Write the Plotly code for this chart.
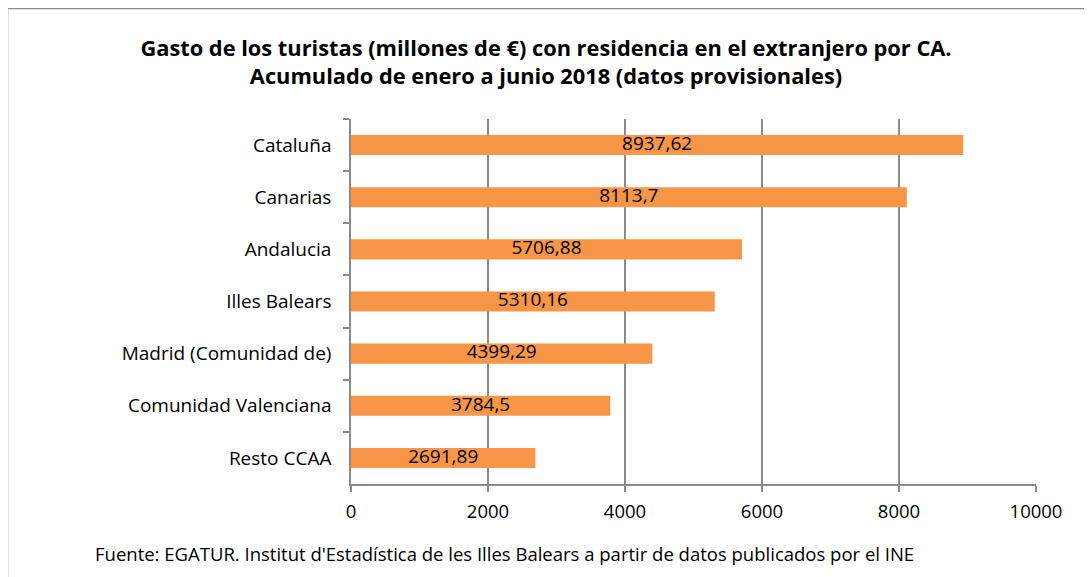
import plotly.graph_objects as go

categories = ["Cataluña", "Canarias", "Andalucia", "Illes Balears",
              "Madrid (Comunidad de)", "Comunidad Valenciana", "Resto CCAA"]
values = [8937.62, 8113.7, 5706.88, 5310.16, 4399.29, 3784.5, 2691.89]
tick_vals = [0, 2000, 4000, 6000, 8000, 10000]
tick_text = ["0", "2000", "4000", "6000", "8000", "10000"]

title_text = ("Gasto de los turistas (millones de €) con residencia en el extranjero por CA.<br>"
              "Acumulado de enero a junio 2018 (datos provisionales)")
source_text = "Fuente: EGATUR. Institut d'Estadística de les Illes Balears a partir de datos publicados por el INE"

labels = [str(v).replace(".", ",") for v in values]
label_x = [v / 2 for v in values]

FONT = "Open Sans"
GRID = "#8a8a8a"

# page offset (body margin) of the rendered figure
OFF = 8
W, H = 1092, 577
PL, PR, PT, PB = 351 - OFF, 1036 - OFF, 119 - OFF, 484 - OFF
PW, PH = PR - PL, PB - PT


def px(x):
    return (x - OFF - PL) / PW


def py(y):
    return (PB - (y - OFF)) / PH


fig = go.Figure()
fig.add_trace(go.Bar(
    x=values, y=categories, orientation="h",
    marker=dict(color="#F79646", line=dict(width=0)),
    hoverinfo="x+y",
))
fig.add_trace(go.Scatter(
    x=label_x, y=categories, mode="text", text=labels,
    textposition="middle center",
    textfont=dict(family=FONT, size=19, color="#000000"),
    hoverinfo="skip", cliponaxis=False,
))

fig.update_layout(
    width=W, height=H,
    margin=dict(l=PL, r=W - PR, t=PT, b=H - PB),
    paper_bgcolor="white", plot_bgcolor="white",
    bargap=0.615,
    showlegend=False,
    font=dict(family=FONT, size=18, color="#000000"),
    title=dict(text=title_text, x=(546 - OFF) / W, xanchor="center",
               y=1 - (56 - OFF) / H, yanchor="middle", xref="container", yref="container",
               font=dict(family=FONT, size=21.8, color="#000000", weight="bold")),
    xaxis=dict(range=[0, 10000], tickvals=tick_vals, ticktext=tick_text,
               showgrid=True, gridcolor=GRID, gridwidth=1.5,
               showline=True, linecolor=GRID, linewidth=1.5,
               ticks="outside", ticklen=6, tickcolor=GRID, tickwidth=1.5,
               ticklabelstandoff=4,
               tickfont=dict(family=FONT, size=18.5, color="#000000"),
               zeroline=False, fixedrange=True),
    yaxis=dict(autorange="reversed", type="category",
               showgrid=False, showline=True, linecolor=GRID, linewidth=1.5,
               ticks="outside", ticklen=6, tickcolor=GRID, tickwidth=1.5,
               tickson="boundaries", ticklabelstandoff=14,
               tickfont=dict(family=FONT, size=19, color="#000000"),
               fixedrange=True),
    annotations=[dict(text=source_text, xref="paper", yref="paper",
                      x=px(93), y=py(553),
                      xanchor="left", yanchor="middle", showarrow=False,
                      font=dict(family=FONT, size=18.5, color="#000000"))],
    shapes=[dict(type="rect", xref="paper", yref="paper",
                 x0=px(7.5), x1=px(1120),
                 y0=py(620), y1=py(8.5),
                 line=dict(color="#8c8c8c", width=1.5), layer="below")],
)

fig.write_html("out.html")
